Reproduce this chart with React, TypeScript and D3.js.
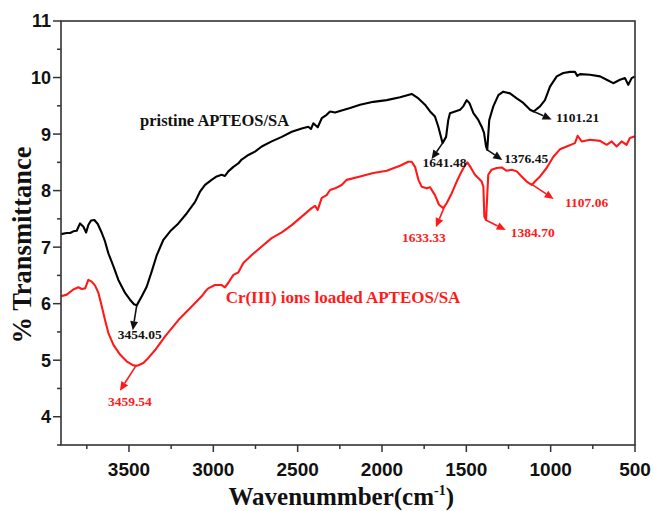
import * as d3 from "d3";

// wavenumber (cm-1) / % transmittance
const pristineWn = [3903, 3869, 3849, 3830, 3810, 3790, 3770, 3754, 3741, 3725, 3705, 3685, 3661, 3642, 3622, 3592, 3563, 3523, 3494, 3470, 3454, 3424, 3395, 3365, 3335, 3296, 3256, 3207, 3157, 3108, 3079, 3049, 3010, 2980, 2951, 2931, 2911, 2881, 2852, 2832, 2792, 2753, 2713, 2654, 2594, 2535, 2476, 2437, 2421, 2407, 2381, 2357, 2328, 2308, 2278, 2249, 2189, 2130, 2051, 1972, 1893, 1824, 1784, 1745, 1715, 1686, 1666, 1646, 1641, 1620, 1607, 1597, 1567, 1537, 1518, 1498, 1482, 1458, 1429, 1409, 1395, 1383, 1376, 1364, 1340, 1310, 1281, 1241, 1201, 1162, 1122, 1101, 1063, 1034, 1004, 964, 925, 885, 856, 842, 826, 767, 707, 668, 629, 589, 559, 540, 520, 500];
const pristineT = [7.23, 7.25, 7.25, 7.28, 7.29, 7.42, 7.36, 7.26, 7.39, 7.47, 7.48, 7.41, 7.25, 7.1, 6.89, 6.66, 6.42, 6.19, 6.07, 5.99, 5.97, 6.13, 6.3, 6.57, 6.86, 7.13, 7.28, 7.42, 7.6, 7.8, 7.98, 8.1, 8.19, 8.25, 8.28, 8.26, 8.34, 8.42, 8.48, 8.55, 8.63, 8.69, 8.78, 8.87, 8.95, 9.04, 9.1, 9.13, 9.09, 9.19, 9.12, 9.28, 9.34, 9.4, 9.38, 9.41, 9.46, 9.52, 9.57, 9.6, 9.65, 9.71, 9.63, 9.52, 9.4, 9.31, 9.13, 8.9, 8.84, 8.95, 9.25, 9.37, 9.4, 9.43, 9.49, 9.6, 9.55, 9.37, 9.25, 9.13, 9.02, 8.78, 8.72, 9.25, 9.49, 9.69, 9.75, 9.72, 9.63, 9.55, 9.43, 9.4, 9.49, 9.6, 9.84, 10.02, 10.08, 10.1, 10.1, 10.03, 10.06, 10.05, 10.02, 9.96, 9.9, 9.96, 9.99, 9.87, 9.99, 10.02];

const loadedWn = [3903, 3869, 3830, 3800, 3780, 3760, 3741, 3721, 3701, 3681, 3661, 3642, 3622, 3592, 3553, 3514, 3474, 3459, 3444, 3415, 3385, 3345, 3286, 3207, 3128, 3108, 3069, 3049, 3030, 2990, 2951, 2931, 2911, 2881, 2852, 2822, 2772, 2713, 2654, 2594, 2535, 2476, 2417, 2397, 2381, 2357, 2328, 2308, 2278, 2239, 2209, 2130, 2051, 1972, 1893, 1844, 1824, 1804, 1784, 1765, 1735, 1715, 1686, 1662, 1636, 1616, 1587, 1557, 1528, 1508, 1494, 1474, 1449, 1419, 1409, 1399, 1393, 1383, 1370, 1350, 1320, 1290, 1261, 1231, 1201, 1172, 1142, 1112, 1093, 1063, 1024, 984, 945, 905, 856, 840, 816, 767, 707, 668, 638, 609, 579, 550, 530, 500];
const loadedT = [6.13, 6.16, 6.25, 6.29, 6.26, 6.27, 6.42, 6.39, 6.32, 6.19, 5.95, 5.71, 5.48, 5.27, 5.1, 4.98, 4.91, 4.9, 4.91, 4.95, 5.04, 5.18, 5.42, 5.71, 5.95, 6.01, 6.13, 6.21, 6.27, 6.33, 6.33, 6.29, 6.37, 6.51, 6.55, 6.72, 6.86, 7.01, 7.16, 7.26, 7.39, 7.54, 7.69, 7.73, 7.66, 7.87, 7.92, 8.01, 8.04, 8.1, 8.19, 8.25, 8.31, 8.35, 8.44, 8.51, 8.51, 8.42, 8.19, 8.07, 8.04, 8.06, 7.92, 7.75, 7.69, 7.78, 7.95, 8.16, 8.34, 8.45, 8.5, 8.41, 8.28, 8.19, 8.16, 8.07, 7.54, 7.48, 8.28, 8.37, 8.4, 8.41, 8.35, 8.37, 8.34, 8.25, 8.16, 8.1, 8.16, 8.25, 8.4, 8.6, 8.73, 8.78, 8.84, 8.97, 8.87, 8.9, 8.88, 8.81, 8.87, 8.78, 8.87, 8.81, 8.93, 8.96];

const xTicks = [3500, 3000, 2500, 2000, 1500, 1000, 500];
const yTicks = [4, 5, 6, 7, 8, 9, 10, 11];

// peak labels: text, wavenumber, transmittance at the arrow base, series
const peakLabels = ["3454.05", "1641.48", "1376.45", "1101.21", "3459.54", "1633.33", "1384.70", "1107.06"];
const peakWn = [3454, 1641, 1376, 1101, 3459, 1633, 1385, 1107];
const peakT = [5.97, 8.84, 8.72, 9.40, 4.9, 7.69, 7.48, 8.10];
const peakSeries = ["pristine", "pristine", "pristine", "pristine", "loaded", "loaded", "loaded", "loaded"];

// pixel offsets of arrow tip and text (anchor middle) from the peak
const peakOffsets = [
  { ax: -4, ay: 25, tx: 3, ty: 34 },
  { ax: -11, ay: 16, tx: 2, ty: 24 },
  { ax: 15, ay: 10, tx: 39, ty: 13 },
  { ax: 18, ay: 8, tx: 44, ty: 11 },
  { ax: -16, ay: 25, tx: -6, ty: 40 },
  { ax: -8, ay: 19, tx: -20, ty: 34 },
  { ax: 20, ay: 10, tx: 47, ty: 17 },
  { ax: 21, ay: 14, tx: 54, ty: 22 },
];

const W = 654;
const H = 511;
const M = { left: 61, top: 21, right: 19, bottom: 66 };
const AXIS = "#333";
const RED = "#ff1a1a";
const SERIF = "Liberation Serif, Times New Roman";

function Arrow({ x1, y1, x2, y2, color }: { x1: number; y1: number; x2: number; y2: number; color: string }) {
  const ang = Math.atan2(y2 - y1, x2 - x1);
  const len = 9;
  const half = 4;
  const bx = x2 - len * Math.cos(ang);
  const by = y2 - len * Math.sin(ang);
  const px = -Math.sin(ang) * half;
  const py = Math.cos(ang) * half;
  return (
    <g>
      <line x1={x1} y1={y1} x2={bx} y2={by} stroke={color} strokeWidth={1.6} />
      <path d={`M${x2},${y2}L${bx + px},${by + py}L${bx - px},${by - py}Z`} fill={color} />
    </g>
  );
}

export default function App() {
  const x = d3.scaleLinear().domain([3903, 500]).range([M.left, W - M.right]);
  const y = d3.scaleLinear().domain([3.5, 11]).range([H - M.bottom, M.top]);

  const line = d3
    .line<[number, number]>()
    .x((d) => x(d[0]))
    .y((d) => y(d[1]))
    .curve(d3.curveLinear);

  const pristine = pristineWn.map((w, i) => [w, pristineT[i]] as [number, number]);
  const loaded = loadedWn.map((w, i) => [w, loadedT[i]] as [number, number]);

  const minorX = d3.range(500, 3901, 250).filter((v) => v % 500 !== 0);
  const minorY = d3.range(3.5, 11.01, 0.5).filter((v) => v % 1 !== 0);

  const x0 = M.left;
  const x1 = W - M.right;
  const y0 = H - M.bottom;
  const y1 = M.top;

  return (
    <svg width={W} height={H} style={{ position: "absolute", left: 0, top: 0, background: "#fff" }}>
      {/* curves */}
      <path d={line(pristine) ?? ""} fill="none" stroke="#000" strokeWidth={2.1} strokeLinejoin="round" />
      <path d={line(loaded) ?? ""} fill="none" stroke={RED} strokeWidth={2.1} strokeLinejoin="round" />

      {/* frame */}
      <rect x={x0} y={y1} width={x1 - x0} height={y0 - y1} fill="none" stroke={AXIS} strokeWidth={1.6} />

      {/* x ticks */}
      {xTicks.map((t) => (
        <g key={"x" + t}>
          <line x1={x(t)} x2={x(t)} y1={y0} y2={y0 + 7} stroke={AXIS} strokeWidth={1.5} />
          <text x={x(t)} y={y0 + 31} textAnchor="middle" fontFamily="Liberation Sans, Arial" fontWeight="bold" fontSize={19} fill="#111">
            {t}
          </text>
        </g>
      ))}
      {minorX.map((t) => (
        <line key={"mx" + t} x1={x(t)} x2={x(t)} y1={y0} y2={y0 + 4} stroke={AXIS} strokeWidth={1.5} />
      ))}

      {/* y ticks */}
      {yTicks.map((t) => (
        <g key={"y" + t}>
          <line x1={x0 - 8} x2={x0} y1={y(t)} y2={y(t)} stroke={AXIS} strokeWidth={1.5} />
          <text x={x0 - 10} y={y(t)} dy="0.36em" textAnchor="end" fontFamily="Liberation Sans, Arial" fontWeight="bold" fontSize={18} fill="#111">
            {t}
          </text>
        </g>
      ))}
      {minorY.map((t) => (
        <line key={"my" + t} x1={x0 - 4} x2={x0} y1={y(t)} y2={y(t)} stroke={AXIS} strokeWidth={1.5} />
      ))}

      {/* axis titles */}
      <text
        transform={`translate(31,${(y0 + y1) / 2 + 12}) rotate(-90)`}
        textAnchor="middle"
        fontFamily={SERIF}
        fontWeight="bold"
        fontSize={26.5}
        fill="#111"
      >
        % Transmittance
      </text>
      <text x={x(2200) - 7} y={H - 6} textAnchor="middle" fontFamily={SERIF} fontWeight="bold" fontSize={25} fill="#111">
        Wavenummber(cm<tspan dy={-10} fontSize={14}>-1</tspan>
        <tspan dy={10}>)</tspan>
      </text>

      {/* series names */}
      <text x={x(3434)} y={y(9.15)} fontFamily={SERIF} fontWeight="bold" fontSize={16.5} fill="#111">
        pristine APTEOS/SA
      </text>
      <text x={x(2927)} y={y(6.02)} fontFamily={SERIF} fontWeight="bold" fontSize={17} fill={RED}>
        Cr(III) ions loaded APTEOS/SA
      </text>

      {/* peak annotations */}
      {peakLabels.map((lab, i) => {
        const px = x(peakWn[i]);
        const py = y(peakT[i]);
        const o = peakOffsets[i];
        const c = peakSeries[i] === "pristine" ? "#111" : RED;
        return (
          <g key={lab}>
            <Arrow x1={px} y1={py} x2={px + o.ax} y2={py + o.ay} color={c} />
            <text x={px + o.tx} y={py + o.ty} textAnchor="middle" fontFamily={SERIF} fontWeight="bold" fontSize={13.5} fill={c}>
              {lab}
            </text>
          </g>
        );
      })}
    </svg>
  );
}
